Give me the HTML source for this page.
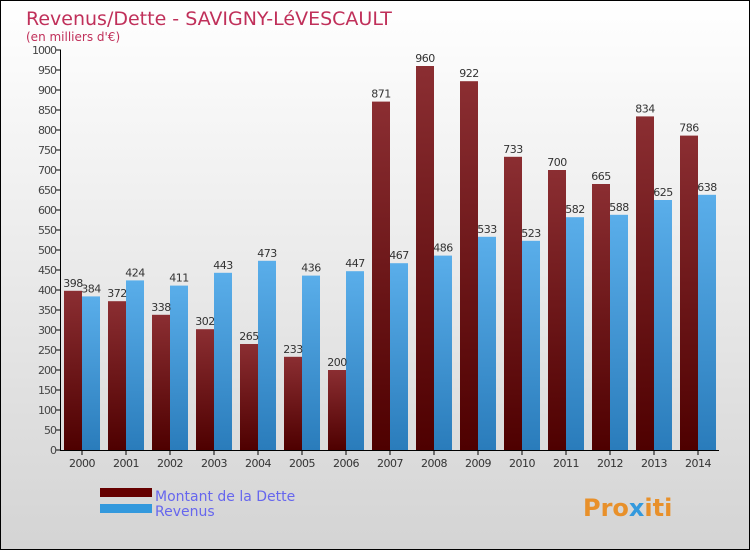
<!DOCTYPE html>
<html><head><meta charset="utf-8"><style>
body{margin:0}
#c{width:748px;height:548px;border:1px solid #000;background:linear-gradient(#fff,#d4d4d4);position:relative;overflow:hidden;font-family:"DejaVu Sans","Liberation Sans",sans-serif}
</style></head><body>
<div id="c">
<svg id="s" width="748" height="548">
<defs>
<linearGradient id="gd" x1="0" y1="0" x2="0" y2="1"><stop offset="0" stop-color="#8b2e32"/><stop offset="1" stop-color="#4e0000"/></linearGradient>
<linearGradient id="gr" x1="0" y1="0" x2="0" y2="1"><stop offset="0" stop-color="#5aaeea"/><stop offset="1" stop-color="#2a7cbb"/></linearGradient>
</defs>
<text x="25" y="24" font-size="19" fill="#c0305a">Revenus/Dette - SAVIGNY-LéVESCAULT</text>
<text x="25" y="40" font-size="12" fill="#c0305a">(en milliers d'€)</text>
<g id="g"></g>
<rect x="99" y="487" width="52" height="9" fill="#660000"/>
<rect x="99" y="503" width="52" height="9" fill="#3399dd"/>
<text x="154" y="500" font-size="14" fill="#6666ee">Montant de la Dette</text>
<text x="154" y="515" font-size="14" fill="#6666ee">Revenus</text>
<text x="582" y="515" font-size="24" font-weight="bold" fill="#e8902a">Pro<tspan fill="#3399dd">x</tspan>iti</text>
</svg></div>
<script>
const years=[2000,2001,2002,2003,2004,2005,2006,2007,2008,2009,2010,2011,2012,2013,2014];
const dette=[398,372,338,302,265,233,200,871,960,922,733,700,665,834,786];
const revenus=[384,424,411,443,473,436,447,467,486,533,523,582,588,625,638];
const ticks=[0,50,100,150,200,250,300,350,400,450,500,550,600,650,700,750,800,850,900,950,1000];
const g=document.getElementById('g'),NS='http://www.w3.org/2000/svg';
const y=v=>449-v*0.4, xc=i=>81+i*44;
function mk(t,a){const e=document.createElementNS(NS,t);for(const k in a)e.setAttribute(k,a[k]);g.appendChild(e);return e;}
ticks.forEach(t=>{
 const l=mk('line',{x1:55,x2:60,y1:y(t),y2:y(t),stroke:'#000'});
 
 
 const tx=mk('text',{x:55,y:y(t)+4,'font-size':11,'text-anchor':'end',fill:'#444','letter-spacing':'-1'});tx.textContent=t;
 
 
});
years.forEach((yr,i)=>{
 const c=xc(i);
 const b1=mk('rect',{x:c-18,y:y(dette[i]),width:18,height:dette[i]*0.4,fill:'url(#gd)'});
 
 
 const b2=mk('rect',{x:c,y:y(revenus[i]),width:18,height:revenus[i]*0.4,fill:'url(#gr)'});
 
 
 const t1=mk('text',{x:c-9,y:y(dette[i])-4,'font-size':11,'text-anchor':'middle',fill:'#333','letter-spacing':'-0.5'});t1.textContent=dette[i];
 
 
 const t2=mk('text',{x:c+9,y:y(revenus[i])-4,'font-size':11,'text-anchor':'middle',fill:'#333','letter-spacing':'-0.5'});t2.textContent=revenus[i];
 
 
 const tk=mk('line',{x1:c,x2:c,y1:449,y2:454,stroke:'#000'});
 
 
 const xl=mk('text',{x:c,y:466,'font-size':11,'text-anchor':'middle',fill:'#333','letter-spacing':'-0.5'});xl.textContent=yr;
 
 
});
const ax=mk('line',{x1:59.5,x2:59.5,y1:49,y2:449.5,stroke:'#000'});


const bx=mk('line',{x1:59,x2:718,y1:449.5,y2:449.5,stroke:'#000'});


</script>
</body></html>
